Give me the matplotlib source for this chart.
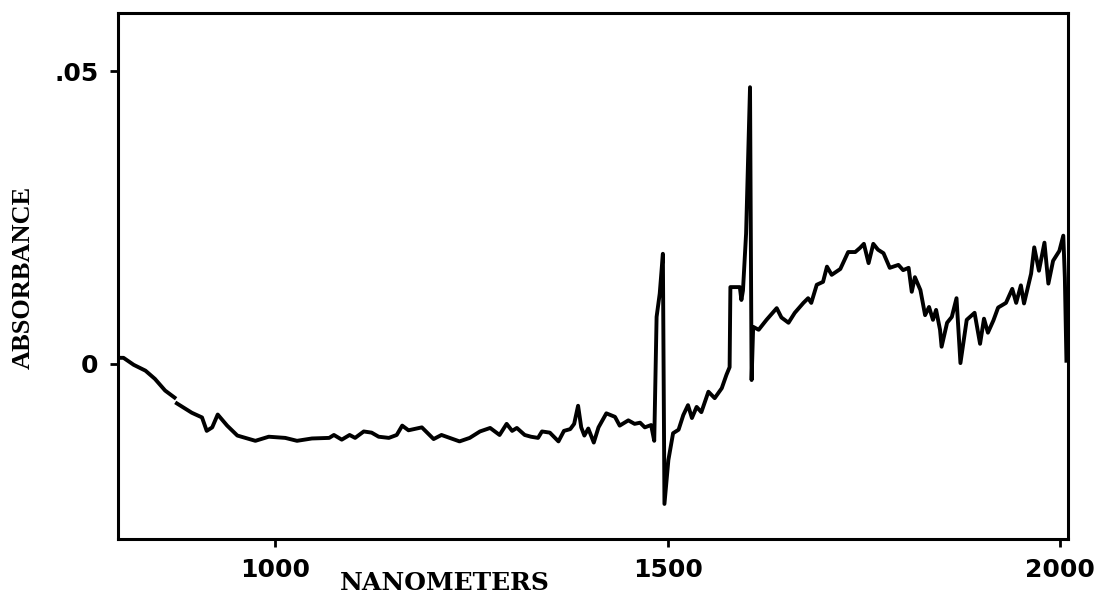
import numpy as np
import matplotlib
matplotlib.use("Agg")
import matplotlib.pyplot as plt

# spectrum (nm, absorbance); nan = gap in the trace
wavelength = [800, 807, 820, 835, 847, 860, 872, np.nan, 875, 894,
              907, 913, 920, 927, 939, 952, 975, 992, 1013, 1028,
              1047, 1069, 1075, 1085, 1095, 1102, 1113, 1123, 1132, 1145,
              1155, 1162, 1170, 1187, 1202, 1212, 1235, 1248, 1261, 1274,
              1286, 1295, 1302, 1308, 1318, 1326, 1335, 1340, 1350, 1361,
              1368, 1376, 1381, 1386, 1390, 1394, 1399, 1406, 1412, 1422,
              1433, 1439, 1450, 1458, 1465, 1471, 1479, 1483, 1486, 1490,
              1494, 1496, 1498, 1501, 1507, 1514, 1520, 1526, 1531, 1537,
              1543, 1552, 1560, 1569, 1575, 1579, 1580, 1592, 1594, 1596,
              1600, 1605, 1607, 1609, 1616, 1626, 1639, 1645, 1654, 1662,
              1673, 1679, 1683, 1690, 1698, 1703, 1709, 1720, 1730, 1739,
              1745, 1750, 1756, 1762, 1768, 1775, 1783, 1794, 1800, 1807,
              1811, 1815, 1822, 1828, 1833, 1838, 1842, 1847, 1849, 1856,
              1862, 1868, 1873, 1881, 1891, 1898, 1903, 1908, 1915, 1921,
              1931, 1939, 1944, 1950, 1954, 1963, 1967, 1973, 1980, 1985,
              1991, 1999, 2004, 2006, 2008]
absorbance = [0.0010, 0.0010, -0.0002, -0.0012, -0.0026, -0.0046, -0.0058, np.nan, -0.0068, -0.0084,
              -0.0092, -0.0115, -0.0109, -0.0087, -0.0106, -0.0123, -0.0132, -0.0125, -0.0127, -0.0132,
              -0.0128, -0.0127, -0.0122, -0.0130, -0.0122, -0.0127, -0.0116, -0.0118, -0.0125, -0.0127,
              -0.0122, -0.0106, -0.0114, -0.0109, -0.0129, -0.0122, -0.0133, -0.0127, -0.0116, -0.0110,
              -0.0122, -0.0103, -0.0115, -0.0110, -0.0122, -0.0125, -0.0127, -0.0116, -0.0118, -0.0133,
              -0.0115, -0.0112, -0.0103, -0.0072, -0.0109, -0.0123, -0.0111, -0.0135, -0.0109, -0.0085,
              -0.0091, -0.0106, -0.0097, -0.0103, -0.0101, -0.0109, -0.0105, -0.0132, 0.0080, 0.0120,
              0.0188, -0.0240, -0.0210, -0.0165, -0.0119, -0.0113, -0.0088, -0.0071, -0.0093, -0.0074,
              -0.0083, -0.0048, -0.0059, -0.0042, -0.0019, -0.0006, 0.0131, 0.0131, 0.0109, 0.0125,
              0.0223, 0.0473, -0.0028, 0.0063, 0.0058, 0.0075, 0.0095, 0.0079, 0.0070, 0.0087,
              0.0104, 0.0112, 0.0104, 0.0135, 0.0140, 0.0166, 0.0152, 0.0162, 0.0191, 0.0191,
              0.0198, 0.0205, 0.0172, 0.0205, 0.0195, 0.0189, 0.0164, 0.0169, 0.0160, 0.0164,
              0.0123, 0.0148, 0.0126, 0.0083, 0.0097, 0.0075, 0.0092, 0.0058, 0.0029, 0.0070,
              0.0080, 0.0112, 0.0001, 0.0075, 0.0087, 0.0034, 0.0077, 0.0053, 0.0074, 0.0096,
              0.0104, 0.0128, 0.0104, 0.0134, 0.0103, 0.0154, 0.0199, 0.0159, 0.0207, 0.0137,
              0.0176, 0.0193, 0.0219, 0.0147, 0.0005]

x_ticks = [1000, 1500, 2000]
x_ticklabels = ['1000', '1500', '2000']
y_ticks = [0, 0.05]
y_ticklabels = ['0', '.05']

fig = plt.figure(figsize=(11.03, 6.03), dpi=100)
ax = fig.add_axes([118/1103, 1 - 539/603, 950/1103, 526/603])

ax.plot(wavelength, absorbance, color='black', lw=2.8, solid_joinstyle='round')

ax.set_xlim(800, 2010)
ax.set_ylim(-0.03, 0.06)
ax.set_xticks(x_ticks)
ax.set_xticklabels(x_ticklabels)
ax.set_yticks(y_ticks)
ax.set_yticklabels(y_ticklabels)

for s in ax.spines.values():
    s.set_linewidth(2.2)
ax.tick_params(direction='out', length=6, width=2, pad=8)
for lab in ax.get_xticklabels() + ax.get_yticklabels():
    lab.set_fontfamily('DejaVu Sans')
    lab.set_fontweight('bold')
    lab.set_fontsize(18)

fig.text(445/1103, 1 - 590/603, 'NANOMETERS', ha='center', va='baseline',
         fontfamily='DejaVu Serif', fontweight='bold', fontsize=18)
fig.text(23/1103, 1 - 277/603, 'ABSORBANCE', ha='center', va='center', rotation=90,
         fontfamily='Liberation Serif', fontweight='bold', fontsize=19)

fig.savefig('out.png', dpi=100)
